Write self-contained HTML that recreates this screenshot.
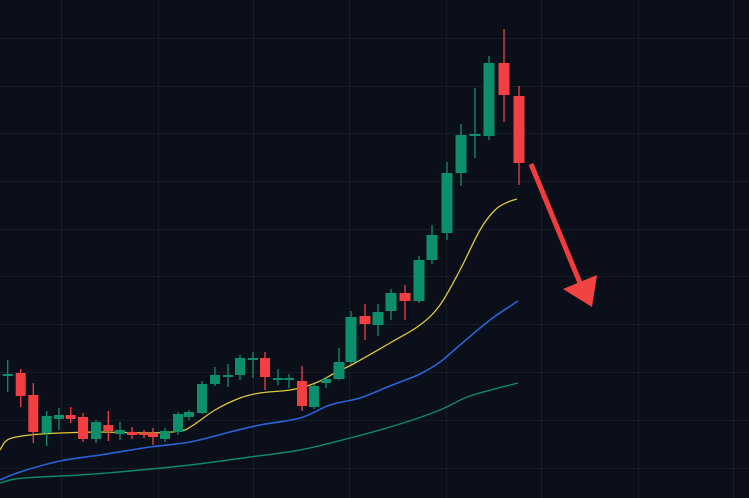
<!DOCTYPE html>
<html><head><meta charset="utf-8"><style>html,body{margin:0;padding:0;background:#0b0f19;}svg{display:block}</style></head>
<body>
<svg id="s" width="749" height="498" viewBox="0 0 749 498" xmlns="http://www.w3.org/2000/svg">
<rect width="749" height="498" fill="#0b0f19"/>
<g id="grid" stroke="#161b26" stroke-width="1"></g>
<g id="ma" fill="none" stroke-linejoin="round"></g>
<g id="c"></g>
<line x1="531" y1="164" x2="580" y2="283" stroke="#f23b3b" stroke-width="5"/>
<polygon points="563,289 597,275 592,307" fill="#f24343"/>
</svg>
<script>
var ns="http://www.w3.org/2000/svg",g=document.getElementById('grid'),c=document.getElementById('c'),ma=document.getElementById('ma');
[38,86,133,181,229,276,324,372,420,468].forEach(function(y){var l=document.createElementNS(ns,'line');l.setAttribute('x1',0);l.setAttribute('x2',749);l.setAttribute('y1',y+.5);l.setAttribute('y2',y+.5);g.appendChild(l);});
[61,158,253,349,446,541,638,733].forEach(function(x){var l=document.createElementNS(ns,'line');l.setAttribute('y1',0);l.setAttribute('y2',498);l.setAttribute('x1',x+.5);l.setAttribute('x2',x+.5);g.appendChild(l);});
function smooth(p){var s='M'+p[0][0]+','+p[0][1];for(var i=0;i<p.length-1;i++){var p0=p[i-1]||p[i],p1=p[i],p2=p[i+1],p3=p[i+2]||p2;
s+=' C'+(p1[0]+(p2[0]-p0[0])/6)+','+(p1[1]+(p2[1]-p0[1])/6)+' '+(p2[0]-(p3[0]-p1[0])/6)+','+(p2[1]-(p3[1]-p1[1])/6)+' '+p2[0]+','+p2[1];}return s;}
function addMA(pts,col,w){var p=document.createElementNS(ns,'path');p.setAttribute('d',smooth(pts));p.setAttribute('stroke',col);p.setAttribute('stroke-width',w);ma.appendChild(p);}
addMA([[0,450],[5,442],[12,438],[30,435],[60,433],[100,432],[150,433],[180,431],[192,426],[215,410],[240,398],[260,393],[290,390],[310,385],[322,380],[335,373],[355,363],[390,343],[420,325],[440,305],[460,270],[480,230],[495,210],[508,202],[517,199]],'#e0c93a',1.3);
addMA([[0,480],[20,472],[60,461],[100,455],[150,447],[190,442],[230,432],[260,425],[300,418],[330,405],[360,398],[385,388],[400,382],[420,374],[440,362],[460,345],[490,320],[518,301]],'#2a63d8',1.6);
addMA([[0,483],[15,479],[40,477],[80,475],[130,471],[190,465],[250,457],[300,450],[350,438],[400,424],[440,410],[470,396],[518,383]],'#0f8a66',1.4);
var d=[[7.7,374,376,360,392,'G'],[20.7,373,396,369,407,'R'],[33.3,395,432,383,443,'R'],[46.7,416,433,411,446,'G'],[59,415,419,408,430,'G'],[70.7,415,419,407,423,'R'],[83,417,439,413,442,'R'],[96,422,439,420,443,'G'],[108.3,425,431,411,441,'R'],[120,430,434,422,440,'G'],[132,432,435,427,439,'R'],[144,433,435,430,438,'R'],[153,433,437,428,445,'R'],[165,431,439,428,442,'G'],[178,414,432,412,435,'G'],[189,412,417,410,420,'G'],[202,384,413,381,414,'G'],[215,375,384,367,386,'G'],[228,375,376,364,387,'G'],[240,358,375,355,380,'G'],[253,358,359,352,378,'G'],[265,358,377,352,390,'R'],[278,378,379,369,385,'G'],[289,378,379,374,388,'G'],[302,381,406,366,411,'R'],[314,386,407,384,409,'G'],[326,379,383,377,388,'G'],[339,362,379,348,380,'G'],[351,317,362,311,364,'G'],[365,316,324,304,340,'R'],[378,312,325,304,336,'G'],[391,293,311,289,320,'G'],[405,293,301,285,320,'R'],[419,260,301,256,303,'G'],[432,235,260,225,264,'G'],[447,173,233,162,240,'G'],[461,135,173,124,186,'G'],[475,134,136,88,158,'G'],[489,63,136,56,140,'G'],[504,63,95,29,122,'R'],[519,96,163,86,185,'R']];
d.forEach(function(k){var col=k[5]=='G'?'#0e8f6c':'#f23f42';var bw=k[0]>330?11:10;
var w=document.createElementNS(ns,'line');w.setAttribute('x1',k[0]);w.setAttribute('x2',k[0]);w.setAttribute('y1',k[3]);w.setAttribute('y2',k[4]);w.setAttribute('stroke',col);w.setAttribute('stroke-width',1.3);c.appendChild(w);
var r=document.createElementNS(ns,'rect');r.setAttribute('x',k[0]-bw/2);r.setAttribute('width',bw);r.setAttribute('y',k[1]);r.setAttribute('height',Math.max(2,k[2]-k[1]));r.setAttribute('fill',col);c.appendChild(r);});
</script>
</body></html>
